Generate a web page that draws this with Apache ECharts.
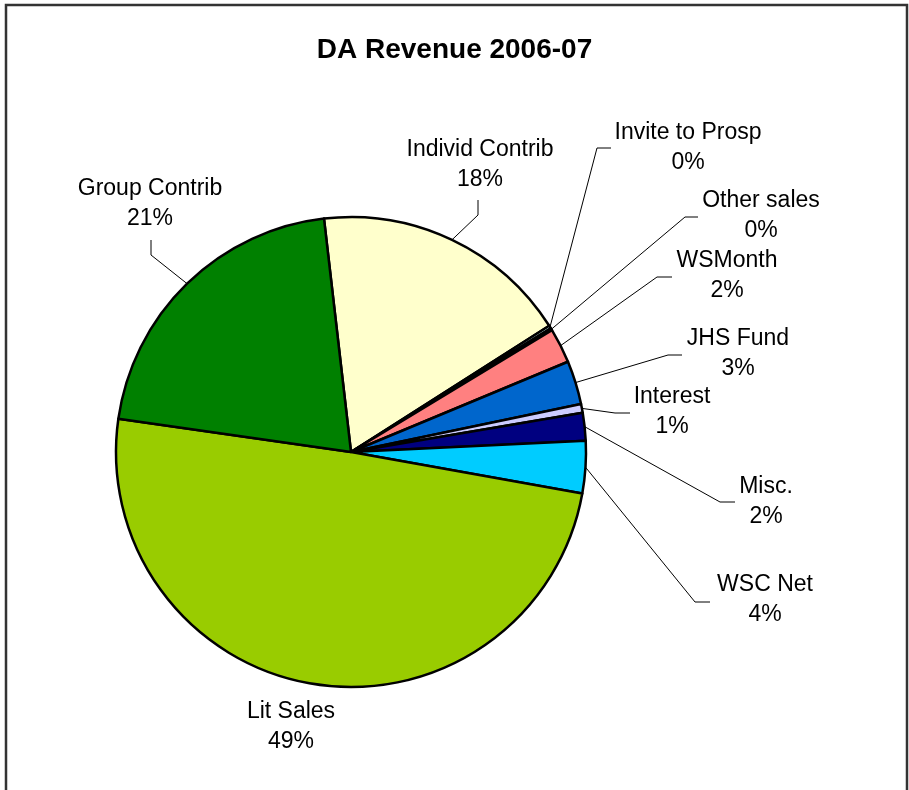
<!DOCTYPE html>
<html>
<head>
<meta charset="utf-8">
<script src="https://cdn.jsdelivr.net/npm/echarts@6/dist/echarts.min.js"></script>
<style>
html,body{margin:0;padding:0;background:#fff;}
#chart{width:909px;height:790px;}
</style>
</head>
<body>
<div id="chart"></div>
<script>
// ---- data ----
var categories = ['Individ Contrib', 'Invite to Prosp', 'Other sales', 'WSMonth', 'JHS Fund', 'Interest', 'Misc.', 'WSC Net', 'Lit Sales', 'Group Contrib'];
var values = [17.8, 0.2, 0.15, 2.4, 3.0, 0.6, 1.9, 3.6, 49.4, 20.9];
var colors = ['#FFFFCC', '#CCFFFF', '#660066', '#FF8080', '#0066CC', '#CCCCFF', '#000080', '#00CCFF', '#99CC00', '#008000'];
var titleText = 'DA Revenue 2006-07';

// ---- label layout (positions of label text blocks and leader-line bends) ----
var labelPos = [[480,165],[688,148],[761,216],[727,276],[738,354],[672,412],[766,502],[765,600],[291,727],[150,204]];
var lineBend = [[478,215],[597,148],[685,217],[657,277],[668,355],[615,413],[720,502],[695,602],null,[151,255]];
var lineEnd  = [[478,200],[611,148],[698,217],[672,277],[682,355],[630,413],[735,502],[710,602],null,[151,240]];

var chart = echarts.init(document.getElementById('chart'));

var seriesData = categories.map(function (c, i) {
  var item = { name: c, value: values[i], itemStyle: { color: colors[i] } };
  if (!lineBend[i]) { item.labelLine = { show: false }; }
  return item;
});

chart.setOption({
  backgroundColor: '#ffffff',
  animation: false,
  title: {
    text: titleText,
    left: 'center',
    top: 31,
    textStyle: { fontFamily: 'Liberation Sans, Arial, sans-serif', fontSize: 28, fontWeight: 'bold', color: '#000' }
  },
  graphic: [{
    type: 'rect',
    shape: { x: 6, y: 5, width: 901, height: 820 },
    style: { fill: 'none', stroke: '#333', lineWidth: 2.5 },
    silent: true,
    z: 0
  }],
  series: [{
    type: 'pie',
    center: [351, 452],
    radius: [0, 235],
    startAngle: 96.6,
    clockwise: true,
    avoidLabelOverlap: false,
    data: seriesData,
    itemStyle: { borderColor: '#000', borderWidth: 2.5 },
    label: {
      show: true,
      position: 'outside',
      fontFamily: 'Liberation Sans, Arial, sans-serif',
      fontSize: 23,
      lineHeight: 30,
      color: '#000',
      align: 'center',
      formatter: function (p) { return p.name + '\n' + Math.round(p.percent) + '%'; }
    },
    labelLine: {
      show: true,
      smooth: false,
      lineStyle: { color: '#000', width: 1 }
    },
    emphasis: { disabled: true },
    labelLayout: function (params) {
      var i = params.dataIndex;
      var res = { x: labelPos[i][0], y: labelPos[i][1], align: 'center', verticalAlign: 'middle' };
      if (lineBend[i] && params.labelLinePoints && params.labelLinePoints[0]) {
        res.labelLinePoints = [params.labelLinePoints[0], lineBend[i], lineEnd[i]];
      }
      return res;
    }
  }]
});
</script>
</body>
</html>
